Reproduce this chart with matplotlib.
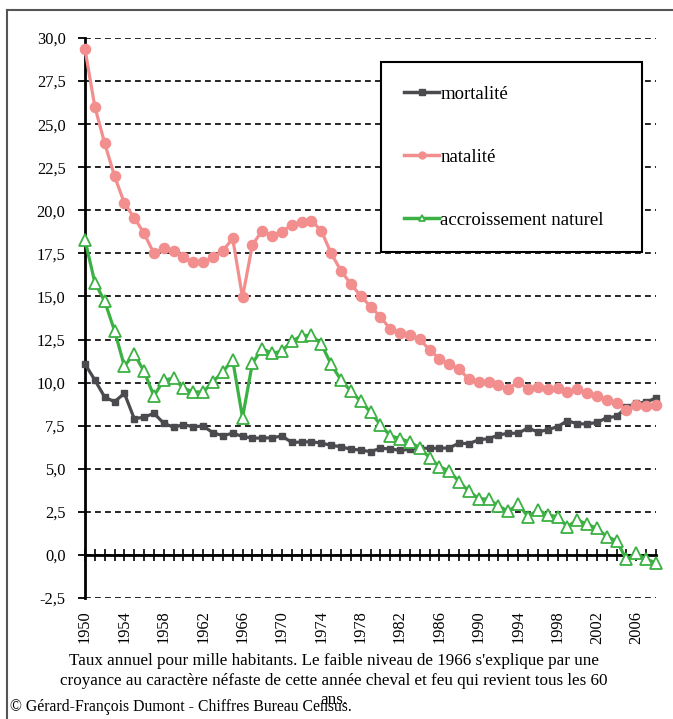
import matplotlib.pyplot as plt
from matplotlib.lines import Line2D
from matplotlib.ticker import FixedLocator, FuncFormatter

plt.rcParams['font.family'] = ['Liberation Serif', 'DejaVu Serif']

years = list(range(1950, 2009))

mortalite = [11.08, 10.15, 9.16, 8.89, 9.38, 7.91, 7.99, 8.22, 7.64, 7.41,
             7.56, 7.44, 7.48, 7.09, 6.92, 7.06, 6.88, 6.78, 6.78, 6.80,
             6.90, 6.53, 6.55, 6.57, 6.49, 6.36, 6.28, 6.13, 6.09, 5.99,
             6.19, 6.15, 6.07, 6.13, 6.19, 6.19, 6.19, 6.21, 6.49, 6.45,
             6.69, 6.74, 6.96, 7.06, 7.06, 7.37, 7.13, 7.27, 7.44, 7.79,
             7.61, 7.60, 7.69, 7.96, 8.04, 8.58, 8.80, 8.87, 9.11]

natalite = [29.34, 26.01, 23.89, 21.99, 20.41, 19.57, 18.66, 17.50, 17.81, 17.66,
            17.27, 16.98, 16.98, 17.27, 17.64, 18.37, 14.95, 17.99, 18.82, 18.53,
            18.76, 19.15, 19.30, 19.40, 18.82, 17.50, 16.50, 15.72, 15.04, 14.41,
            13.83, 13.11, 12.90, 12.74, 12.53, 11.89, 11.39, 11.08, 10.79, 10.19,
            10.03, 10.02, 9.84, 9.65, 10.02, 9.65, 9.76, 9.61, 9.69, 9.45,
            9.63, 9.40, 9.24, 9.01, 8.84, 8.41, 8.68, 8.62, 8.72]

accroissement = [18.28, 15.80, 14.72, 13.01, 10.96, 11.66, 10.65, 9.22, 10.15, 10.25,
                 9.67, 9.47, 9.45, 10.05, 10.63, 11.31, 7.97, 11.12, 11.97, 11.70,
                 11.82, 12.40, 12.72, 12.76, 12.24, 11.06, 10.15, 9.51, 8.91, 8.29,
                 7.56, 6.92, 6.75, 6.55, 6.22, 5.64, 5.12, 4.87, 4.25, 3.69,
                 3.26, 3.24, 2.84, 2.53, 2.95, 2.22, 2.61, 2.32, 2.22, 1.64,
                 2.03, 1.78, 1.54, 1.06, 0.82, -0.26, 0.09, -0.26, -0.45]

labels = ['mortalité', 'natalité', 'accroissement naturel']
y_ticks = [-2.5 + 2.5 * i for i in range(14)]
x_label_years = list(range(1950, 2007, 4))

caption = ("Taux annuel pour mille habitants. Le faible niveau de 1966 s'explique par une\n"
           "croyance au caractère néfaste de cette année cheval et feu qui revient tous les 60\n"
           "ans.")
source = "© Gérard-François Dumont - Chiffres Bureau Census."

c_mort = '#4b4b4f'
c_nat = '#f28e8e'
c_acc = '#3bb143'

fig = plt.figure(figsize=(6.73, 7.19), dpi=100)
ax = fig.add_axes([85 / 673, 121 / 719, 571 / 673, 560 / 719])

ax.plot(years, mortalite, color=c_mort, lw=2.3, marker='s', ms=4.6,
        clip_on=False, zorder=4, label=labels[0])
ax.plot(years, natalite, color=c_nat, lw=2.3, marker='o', ms=7.3,
        clip_on=False, zorder=4, label=labels[1])
ax.plot(years, accroissement, color=c_acc, lw=2.3, marker='^', ms=8,
        markerfacecolor='white', markeredgecolor=c_acc, markeredgewidth=1.3,
        clip_on=False, zorder=5, label=labels[2])

ax.set_xlim(1950, 2008)
ax.set_ylim(-2.5, 30)

# y axis
ax.yaxis.set_major_locator(FixedLocator(y_ticks))
ax.yaxis.set_major_formatter(FuncFormatter(lambda v, p: f'{v:.1f}'.replace('.', ',')))
ax.tick_params(axis='y', direction='out', length=5, width=1.3, labelsize=11.8, pad=9)
ax.grid(axis='y', color='black', linestyle=(0, (3.5, 2.5)), lw=1.2)
ax.set_axisbelow(True)

for s in ['top', 'right', 'bottom']:
    ax.spines[s].set_visible(False)
ax.spines['left'].set_linewidth(2)

# x labels at the bottom, axis line at zero
ax.xaxis.set_major_locator(FixedLocator(x_label_years))
ax.tick_params(axis='x', length=0, labelsize=11.8, pad=9, labelrotation=90)

sec = ax.secondary_xaxis(2.5 / 32.5)
sec.xaxis.set_major_locator(FixedLocator(years))
sec.tick_params(axis='x', direction='inout', length=8, width=1.2, labelbottom=False)
sec.spines['bottom'].set_linewidth(2)

leg = ax.legend(loc='upper left', bbox_to_anchor=(0.518, 0.629, 0.457, 0.328),
                mode='expand', fontsize=13.5, frameon=True, fancybox=False,
                edgecolor='black', framealpha=1, borderpad=1.25, labelspacing=2.45,
                handlelength=1.87, handletextpad=0.05, borderaxespad=0)
leg.get_frame().set_linewidth(1.5)
for line in leg.get_lines():
    line.set_markersize(5)
    line.set_linewidth(2.5)

fig.text(334 / 673, 1 - 653 / 719, caption, ha='center', va='top',
         fontsize=12.25, linespacing=1.3)
fig.text(10 / 673, 1 - 707 / 719, source, ha='left', va='center', fontsize=11.3)

# partial outer frame
fig.add_artist(Line2D([7 / 673, 1], [1 - 10 / 719, 1 - 10 / 719],
                      transform=fig.transFigure, color='#555555', lw=1.5))
fig.add_artist(Line2D([7 / 673, 7 / 673], [0, 1 - 10 / 719],
                      transform=fig.transFigure, color='#555555', lw=1.5))

fig.savefig('out.png', dpi=100)
